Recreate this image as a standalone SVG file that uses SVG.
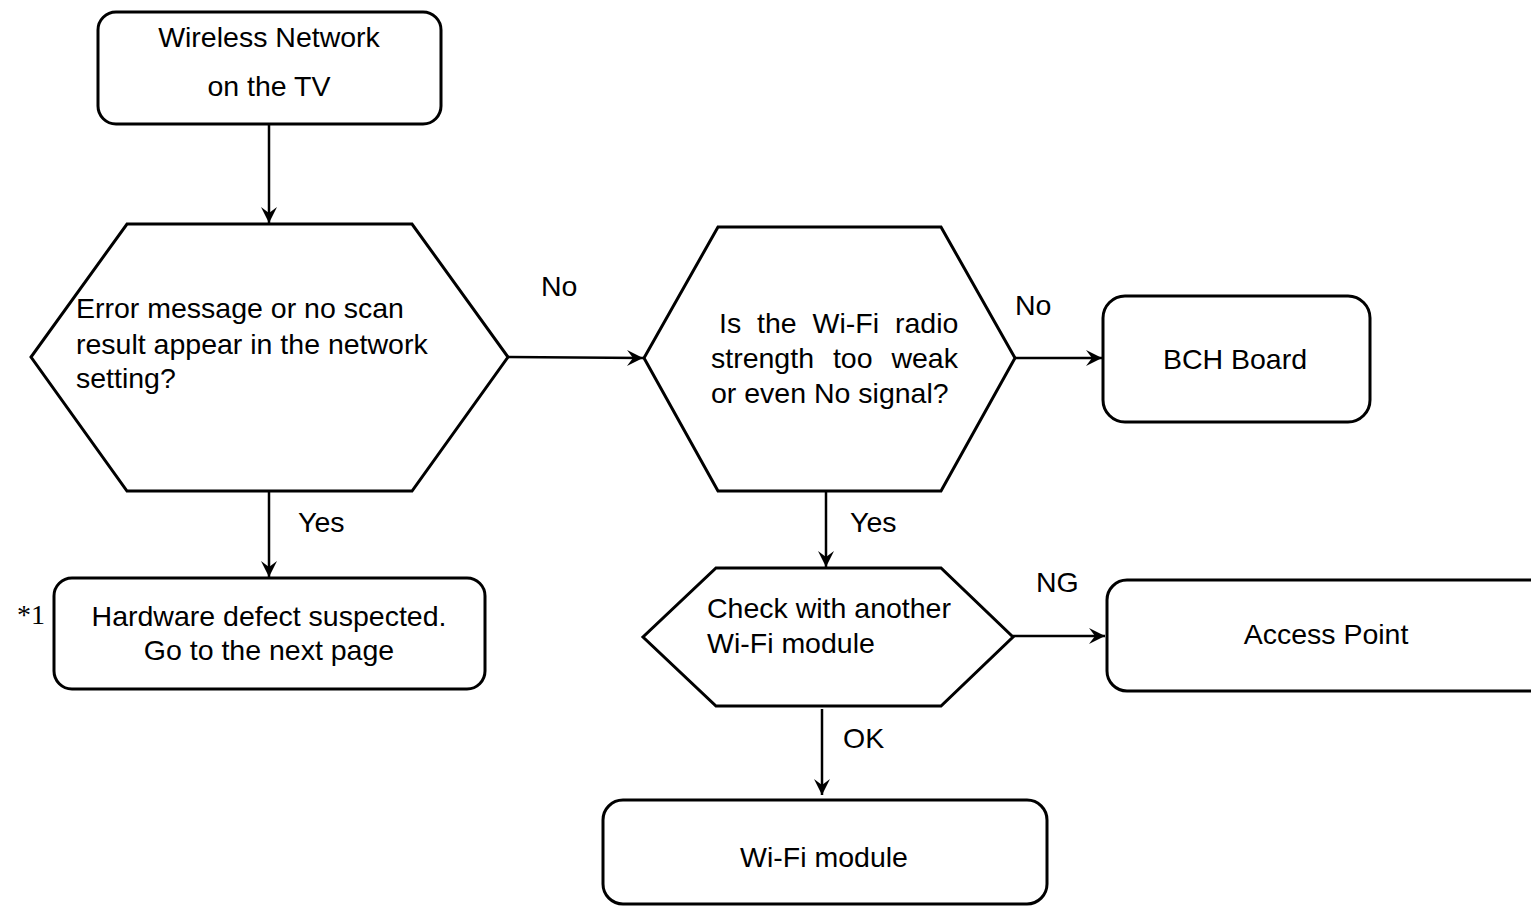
<svg xmlns="http://www.w3.org/2000/svg" width="1531" height="906" viewBox="0 0 1531 906">
<style>
.shape{fill:#fff;stroke:#000;stroke-width:3}
.t{font-family:"Liberation Sans",Arial,sans-serif;font-size:28.5px;fill:#000}
.c{text-anchor:middle}
.edge{fill:none;stroke:#000;stroke-width:2.5;marker-end:url(#arr)}
</style>
<defs>
<marker id="arr" markerUnits="userSpaceOnUse" markerWidth="20" markerHeight="20" viewBox="-17 -10 20 20" refX="0" refY="0" orient="auto">
<path d="M0,0 L-16,-8 L-10,0 L-16,8 Z" fill="#000"/>
</marker>
</defs>
<rect width="1531" height="906" fill="#fff"/>
<g id="connectors">
<line class="edge" x1="269" y1="124" x2="269" y2="223"/>
<line class="edge" x1="508" y1="357" x2="643" y2="358"/>
<line class="edge" x1="1015" y1="358" x2="1102" y2="358"/>
<line class="edge" x1="269" y1="491" x2="269" y2="577"/>
<line class="edge" x1="826" y1="491" x2="826" y2="567"/>
<line class="edge" x1="1013" y1="636" x2="1105" y2="636"/>
<line class="edge" x1="822" y1="709" x2="822" y2="795"/>
<text class="t" x="541" y="296">No</text>
<text class="t" x="1015" y="315">No</text>
<text class="t" x="298" y="532">Yes</text>
<text class="t" x="850" y="532">Yes</text>
<text class="t" x="1036" y="592">NG</text>
<text class="t" x="843" y="748">OK</text>
</g>
<g id="start">
<rect class="shape" x="98" y="12" width="343" height="112" rx="18"/>
<text class="t c" x="269" y="47">Wireless Network</text>
<text class="t c" x="269" y="96">on the TV</text>
</g>
<g id="decision1">
<polygon class="shape" points="127,224 412,224 508,357 412,491 127,491 31,357"/>
<text class="t" x="76" y="318">Error message or no scan</text>
<text class="t" x="76" y="354">result appear in the network</text>
<text class="t" x="76" y="388">setting?</text>
</g>
<g id="decision2">
<polygon class="shape" points="718,227 941,227 1015,358 941,491 718,491 644,358"/>
<text class="t" x="719" y="333" word-spacing="8">Is the Wi-Fi radio</text>
<text class="t" x="711" y="368" word-spacing="11">strength too weak</text>
<text class="t" x="711" y="403">or even No signal?</text>
</g>
<g id="bch">
<rect class="shape" x="1103" y="296" width="267" height="126" rx="22"/>
<text class="t c" x="1235" y="369">BCH Board</text>
</g>
<g id="hardware">
<text x="17" y="624" style="font-family:'Liberation Serif','Times New Roman',serif;font-size:28px">*1</text>
<rect class="shape" x="54" y="578" width="431" height="111" rx="18"/>
<text class="t c" x="269" y="626">Hardware defect suspected.</text>
<text class="t c" x="269" y="660">Go to the next page</text>
</g>
<g id="decision3">
<polygon class="shape" points="716,568 941,568 1013,637 941,706 716,706 643,637"/>
<text class="t" x="707" y="618">Check with another</text>
<text class="t" x="707" y="653">Wi-Fi module</text>
</g>
<g id="access">
<rect class="shape" x="1107" y="580" width="460" height="111" rx="20"/>
<text class="t c" x="1326" y="644">Access Point</text>
</g>
<g id="wifi">
<rect class="shape" x="603" y="800" width="444" height="104" rx="20"/>
<text class="t c" x="824" y="867">Wi-Fi module</text>
</g>
</svg>
